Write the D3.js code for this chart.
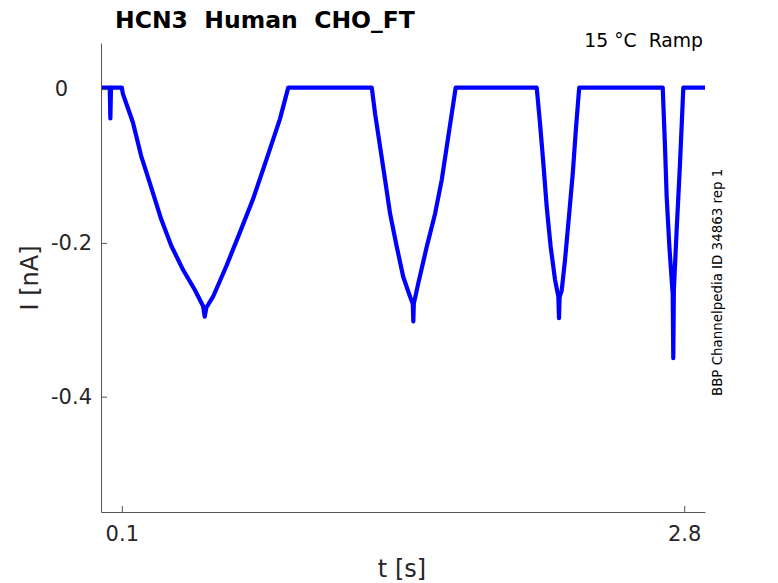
<!DOCTYPE html>
<html>
<head>
<meta charset="utf-8">
<script src="https://cdn.jsdelivr.net/npm/d3@7"></script>
<style>
  html, body { margin: 0; padding: 0; background: #fff; }
  svg { display: block; }
  text { font-family: "DejaVu Sans", sans-serif; white-space: pre; }
</style>
</head>
<body>
<svg id="chart" width="778" height="583"></svg>
<script>
// ---- data ----
const timeS = [
  0, 0.042, 0.045, 0.048, 0.1,
  0.105, 0.153, 0.193, 0.233, 0.29, 0.338, 0.394, 0.45, 0.49, 0.498, 0.506, 0.538, 0.602, 0.666, 0.73, 0.795, 0.859, 0.899,
  1.300,
  1.316, 1.340, 1.364, 1.388, 1.420, 1.451, 1.484, 1.497, 1.4995, 1.502, 1.523, 1.564, 1.604, 1.636, 1.660, 1.684, 1.703,
  2.092,
  2.108, 2.124, 2.140, 2.159, 2.180, 2.196, 2.199, 2.202, 2.212, 2.228, 2.248, 2.265, 2.281, 2.296,
  2.697,
  2.708, 2.716, 2.729, 2.740, 2.745, 2.7477, 2.7505, 2.764, 2.780, 2.796,
  2.9
];
const currentNA = [
  0.002, 0.002, -0.038, 0.002, 0.002,
  -0.006, -0.043, -0.087, -0.121, -0.170, -0.204, -0.235, -0.261, -0.282, -0.296, -0.284, -0.270, -0.230, -0.187, -0.143, -0.091, -0.039, 0.002,
  0.002,
  -0.032, -0.075, -0.118, -0.162, -0.205, -0.244, -0.270, -0.279, -0.302, -0.279, -0.253, -0.205, -0.162, -0.118, -0.075, -0.032, 0.002,
  0.002,
  -0.045, -0.097, -0.153, -0.205, -0.248, -0.270, -0.298, -0.270, -0.262, -0.222, -0.162, -0.110, -0.049, 0.002,
  0.002,
  -0.075, -0.140, -0.205, -0.248, -0.266, -0.350, -0.261, -0.183, -0.097, 0.002,
  0.002
];
const xTicks = [0.1, 2.8];
const xTickLabels = ["0.1", "2.8"];
const yTicks = [0, -0.2, -0.4];
const yTickLabels = ["0", "-0.2", "-0.4"];
const xDomain = [0, 2.9];
const yDomain = [-0.55, 0.06];

const titleText = "HCN3  Human  CHO_FT";
const cornerText = "15 \u00B0C  Ramp";
const sideText = "BBP Channelpedia ID 34863 rep 1";

// ---- drawing ----
(function () {
const svg = d3.select("#chart");
const pLeft = 101, pRight = 705, pTop = 43, pBottom = 512;

const x = d3.scaleLinear().domain(xDomain).range([pLeft, pRight]);
const y = d3.scaleLinear().domain(yDomain).range([pBottom, pTop]);

const pts = timeS.map((t, i) => [t, currentNA[i]]);
const line = d3.line().x(d => x(d[0])).y(d => y(d[1]));

svg.append("path")
  .datum(pts)
  .attr("d", line)
  .attr("fill", "none")
  .attr("stroke", "#0000ff")
  .attr("stroke-width", 4.2)
  .attr("stroke-linejoin", "round")
  .attr("stroke-linecap", "butt");

// axes
const xAxis = d3.axisBottom(x)
  .tickValues(xTicks)
  .tickFormat((d, i) => xTickLabels[i])
  .tickSizeInner(-6).tickSizeOuter(0).tickPadding(14);
const yAxis = d3.axisLeft(y)
  .tickValues(yTicks)
  .tickFormat((d, i) => yTickLabels[i])
  .tickSizeInner(-6).tickSizeOuter(0).tickPadding(9);

const gx = svg.append("g").attr("transform", `translate(0,${pBottom})`).call(xAxis);
const gy = svg.append("g").attr("transform", `translate(${pLeft},0)`).call(yAxis);

[gx, gy].forEach(g => {
  g.select(".domain").attr("stroke", "#555").attr("stroke-width", 1);
  g.selectAll(".tick line").attr("stroke", "#555").attr("stroke-width", 1);
  g.selectAll(".tick text")
    .attr("fill", "#262626")
    .style("font-family", "'DejaVu Sans', sans-serif")
    .style("font-size", "21px");
});
gy.selectAll(".tick text").filter(d => d === 0).attr("x", -33);

// labels
svg.append("text")
  .attr("x", 402).attr("y", 577)
  .attr("text-anchor", "middle")
  .attr("fill", "#262626")
  .style("font-size", "24px")
  .text("t [s]");

svg.append("text")
  .attr("transform", "translate(38,278) rotate(-90)")
  .attr("text-anchor", "middle")
  .attr("fill", "#262626")
  .style("font-size", "24px")
  .text("I [nA]");

svg.append("text")
  .attr("x", 115).attr("y", 28)
  .attr("text-anchor", "start")
  .attr("fill", "#000")
  .style("font-size", "23.5px")
  .style("font-weight", "bold")
  .text(titleText);

svg.append("text")
  .attr("x", 703).attr("y", 47)
  .attr("text-anchor", "end")
  .attr("fill", "#000")
  .style("font-size", "18.8px")
  .text(cornerText);

svg.append("text")
  .attr("transform", "translate(722,396) rotate(-90)")
  .attr("text-anchor", "start")
  .attr("fill", "#000")
  .style("font-size", "13.4px")
  .text(sideText);
})();
</script>
</body>
</html>
